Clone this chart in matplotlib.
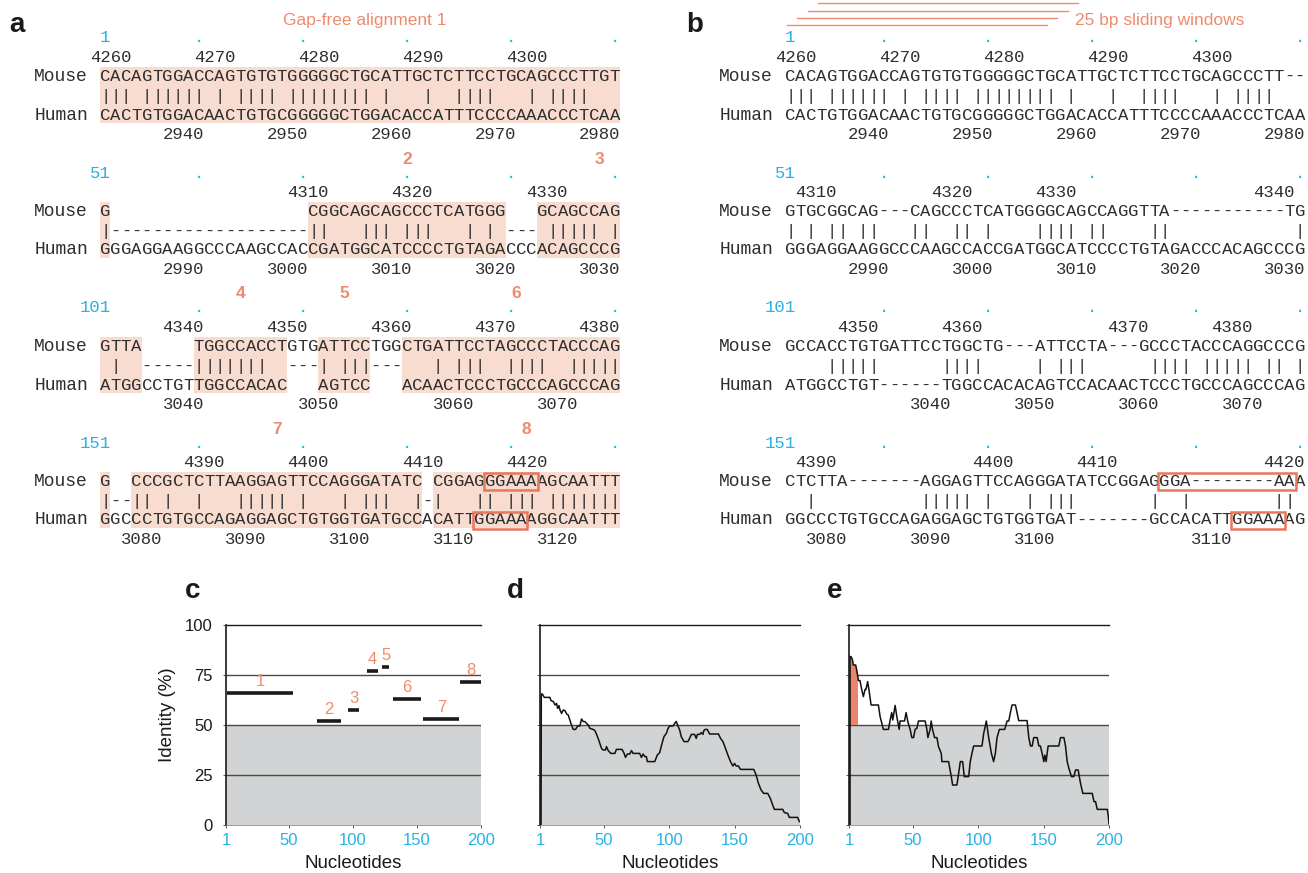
import numpy as np
import matplotlib
matplotlib.use("Agg")
import matplotlib.pyplot as plt
from matplotlib.patches import Rectangle

# ---------------- data ----------------
# panel a : alignment with gap-free blocks (gaps = '-')
mouse_a = [
    "CACAGTGGACCAGTGTGTGGGGGCTGCATTGCTCTTCCTGCAGCCCTTGT",
    "G-------------------CGGCAGCAGCCCTCATGGG---GCAGCCAG",
    "GTTA-----TGGCCACCTGTGATTCCTGGCTGATTCCTAGCCCTACCCAG",
    "G--CCCGCTCTTAAGGAGTTCCAGGGATATC-CGGAGGGAAAAGCAATTT",
]
human_a = [
    "CACTGTGGACAACTGTGCGGGGGCTGGACACCATTTCCCCAAACCCTCAA",
    "GGGAGGAAGGCCCAAGCCACCGATGGCATCCCCTGTAGACCCACAGCCCG",
    "ATGGCCTGTTGGCCACAC---AGTCC---ACAACTCCCTGCCCAGCCCAG",
    "GGCCCTGTGCCAGAGGAGCTGTGGTGATGCCACATTGGAAAAGGCAATTT",
]
# panel b : global alignment
mouse_b = [
    "CACAGTGGACCAGTGTGTGGGGGCTGCATTGCTCTTCCTGCAGCCCTT--",
    "GTGCGGCAG---CAGCCCTCATGGGGCAGCCAGGTTA-----------TG",
    "GCCACCTGTGATTCCTGGCTG---ATTCCTA---GCCCTACCCAGGCCCG",
    "CTCTTA-------AGGAGTTCCAGGGATATCCGGAGGGA--------AAA",
]
human_b = [
    "CACTGTGGACAACTGTGCGGGGGCTGGACACCATTTCCCCAAACCCTCAA",
    "GGGAGGAAGGCCCAAGCCACCGATGGCATCCCCTGTAGACCCACAGCCCG",
    "ATGGCCTGT------TGGCCACACAGTCCACAACTCCCTGCCCAGCCCAG",
    "GGCCCTGTGCCAGAGGAGCTGTGGTGAT-------GCCACATTGGAAAAG",
]
mouse_start = 4258
human_start = 2931
motif = "GGAAA"
window_bp = 25
row_len = 50

# panel c : identity of gap-free alignments 1-8
c_labels = ["1", "2", "3", "4", "5", "6", "7", "8"]
c_start = [2, 72, 96, 111, 123, 131, 155, 184]
c_end = [53, 91, 105, 120, 128, 153, 183, 200]
c_identity = [66.0, 52.0, 57.5, 77.0, 79.2, 63.0, 52.8, 71.5]

# panel d : sliding window identity on the global alignment
d_x = [1.8, 2.0, 2.8, 4.3, 8.6, 9.4, 11.2, 12.5, 13.7, 14.5, 15.5, 16.3, 17.5, 18.8,
       20.1, 21.4, 22.6, 24.7, 26.4, 28.2, 29.8, 31.5, 32.8, 34.1, 35.4, 36.6, 37.9,
       39.2, 41.7, 43.0, 44.3, 45.5, 46.8, 48.1, 49.3, 51.1, 51.9, 53.2, 55.2, 58.3,
       59.5, 63.8, 65.4, 66.4, 67.9, 69.7, 71.0, 72.2, 77.3, 78.6, 79.9, 81.2, 82.4,
       83.2, 88.8, 90.8, 92.6, 94.4, 95.9, 97.7, 99.0, 100.2, 102.8, 104.1, 105.3,
       106.6, 107.9, 109.1, 111.2, 114.2, 115.5, 116.8, 119.3, 120.6, 121.4, 123.1,
       124.4, 125.7, 126.4, 127.5, 129.0, 130.8, 137.6, 139.2, 141.0, 142.7, 144.8,
       146.8, 148.6, 149.9, 151.1, 152.9, 154.4, 164.6, 166.4, 168.2, 170.2, 172.2,
       175.3, 177.3, 179.1, 180.4, 186.8, 188.0, 190.6, 191.8, 198.2, 199.5]
d_y = [0.0, 65.5, 65.5, 63.8, 63.8, 62.2, 61.7, 60.0, 60.8, 58.3, 59.7, 57.5, 55.8, 57.5,
       57.2, 55.5, 55.0, 50.8, 47.8, 47.8, 49.5, 49.5, 53.0, 51.7, 51.7, 50.8, 50.0,
       48.3, 47.8, 47.2, 45.3, 43.3, 40.8, 38.3, 37.5, 37.5, 39.2, 37.2, 35.8, 35.8,
       37.8, 37.8, 35.8, 33.8, 35.5, 35.5, 37.2, 35.8, 35.8, 33.8, 35.5, 34.2, 34.2,
       31.7, 31.7, 35.0, 36.2, 40.8, 44.2, 45.8, 48.3, 49.5, 49.5, 50.8, 51.8,
       49.5, 47.5, 44.2, 41.7, 41.7, 43.3, 45.3, 45.3, 43.3, 45.3, 45.3,
       46.2, 45.3, 47.2, 47.8, 47.8, 45.5, 45.5, 43.3, 41.7, 38.8, 35.0,
       31.7, 29.5, 30.8, 29.5, 29.5, 27.8, 27.8, 25.0, 20.8, 17.5, 15.8,
       15.8, 13.3, 10.0, 7.8, 7.8, 6.2, 5.8, 3.8, 3.8, 1.7]

# panel e : sliding window identity on the gap-free alignment
e_x = [1.8, 1.8, 2.5, 3.6, 4.3, 6.1, 6.9, 8.2, 9.4, 10.7, 12.0, 13.3, 14.0, 15.3, 16.3,
       17.9, 23.5, 24.8, 27.3, 31.2, 32.5, 33.7, 34.5, 36.3, 37.6, 39.4, 40.1, 43.5,
       44.7, 46.0, 47.8, 49.1, 50.4, 51.6, 52.9, 54.2, 59.3, 60.6, 61.4, 63.1, 63.9,
       64.9, 66.5, 68.3, 69.5, 71.6, 72.1, 77.2, 79.3, 80.3, 83.6, 84.9, 86.2, 88.0,
       89.2, 92.6, 93.8, 95.1, 96.4, 102.8, 104.1, 106.1, 107.9, 110.0, 111.7, 113.0,
       114.3, 116.1, 120.2, 122.0, 123.3, 124.5, 125.8, 128.4, 130.9, 137.3, 138.6,
       139.9, 141.2, 142.4, 145.0, 146.3, 147.5, 148.8, 150.1, 150.9, 151.9, 153.4,
       161.6, 162.9, 165.5, 166.7, 168.0, 169.3, 171.3, 173.1, 174.4, 176.4, 178.2,
       180.0, 187.2, 188.5, 189.7, 191.0, 198.7, 199.5, 200.0]
e_y = [0.0, 84.2, 84.2, 82.8, 80.0, 80.0, 77.5, 72.2, 72.2, 67.8, 64.2, 67.8, 67.8, 71.7, 67.5,
       60.0, 60.0, 54.2, 47.8, 47.8, 52.5, 56.2, 52.5, 59.8, 54.2, 47.8, 52.0, 52.0,
       56.2, 51.7, 47.8, 43.7, 43.7, 47.8, 48.3, 52.0, 52.0, 47.8, 43.7, 47.8, 52.0,
       47.8, 43.7, 43.7, 39.2, 35.8, 31.7, 31.7, 24.2, 20.0, 20.0, 25.8, 31.7, 31.7,
       24.2, 24.2, 31.7, 35.8, 39.5, 39.5, 45.8, 52.0, 43.7, 35.8, 31.7, 35.8,
       43.7, 47.8, 47.8, 52.0, 52.0, 56.2, 60.0, 60.0, 52.2, 52.2, 43.7,
       39.5, 39.5, 43.7, 43.7, 39.5, 39.5, 35.8, 31.7, 35.0, 31.7, 39.5,
       39.5, 43.7, 43.7, 39.5, 31.7, 28.3, 24.2, 24.2, 27.5, 27.5, 20.8,
       15.8, 15.8, 11.7, 11.7, 7.8, 7.8, 4.2, 0.5]
e_highlight_end = 7.6

x_ticks = [1, 50, 100, 150, 200]
y_ticks = [0, 25, 50, 75, 100]

for rows in (mouse_a, human_a, mouse_b, human_b):
    assert all(len(r) == row_len for r in rows), [len(r) for r in rows]
assert len(d_x) == len(d_y) and len(e_x) == len(e_y), (len(d_x), len(d_y), len(e_x), len(e_y))

# ---------------- style ----------------
FIG_W, FIG_H = 1308, 873
MONO = ["Liberation Mono", "DejaVu Sans Mono"]
SANS = ["Liberation Sans", "DejaVu Sans"]
CW = 10.4
SEQ_FS = 12.4
TXT = "#2e2e2e"
CYAN = "#27B2E6"
SALMON = "#EE8B6E"
BOXC = "#E8775C"
FILLC = "#E9856B"
SHADE = "#F8DCD0"
GRAY = "#D1D3D4"
Y0, DY = 38, 135
OFF_NUM1, OFF_M, OFF_MAT, OFF_H, OFF_NUM2, OFF_RED = 19.5, 38.5, 58.5, 77.0, 96.5, -14
X0A, X0B = 100, 785

fig = plt.figure(figsize=(FIG_W / 100, FIG_H / 100), dpi=100)
bg = fig.add_axes([0, 0, 1, 1])
bg.set_xlim(0, FIG_W)
bg.set_ylim(FIG_H, 0)
bg.axis("off")


def mono(x, y, s, color=TXT, ha="center", size=SEQ_FS, **kw):
    bg.text(x, y, s, family=MONO, size=size, color=color, ha=ha, va="center", **kw)


def match_row(mr, hr, gapchar):
    out = []
    for a, b in zip(mr, hr):
        if a == "-" or b == "-":
            out.append(gapchar)
        elif a == b:
            out.append("|")
        else:
            out.append(" ")
    return "".join(out)


def draw_chars(x0, y, s):
    for c, letter in enumerate(s):
        if letter != " ":
            mono(x0 + (c + 0.5) * CW, y, letter)


def draw_alignment(x0, mrows, hrows, panel_a):
    m_pos, h_pos = mouse_start - 1, human_start - 1
    for i, (mr, hr) in enumerate(zip(mrows, hrows)):
        yb = Y0 + i * DY
        ym, yh = yb + OFF_M, yb + OFF_H
        # index row
        mono(x0 + CW, yb, str(1 + row_len * i), color=CYAN, ha="right")
        for c in range(9, row_len, 10):
            mono(x0 + (c + 0.5) * CW, yb, ".", color=CYAN)
        # species labels
        mono(x0 - 12, ym, "Mouse", ha="right", size=13)
        mono(x0 - 12, yh, "Human", ha="right", size=13)
        # shading of gap-free blocks
        if panel_a:
            both = [a != "-" and b != "-" for a, b in zip(mr, hr)]
            c = 0
            while c < row_len:
                if both[c]:
                    s = c
                    while c < row_len and both[c]:
                        c += 1
                    bg.add_patch(Rectangle((x0 + s * CW, ym - 10), (c - s) * CW,
                                           (yh + 8) - (ym - 10), facecolor=SHADE,
                                           edgecolor="none", zorder=0))
                else:
                    c += 1
        # sequences
        if panel_a:
            draw_chars(x0, ym, mr.replace("-", " "))
            draw_chars(x0, yh, hr.replace("-", " "))
            draw_chars(x0, yb + OFF_MAT, match_row(mr, hr, "-"))
        else:
            draw_chars(x0, ym, mr)
            draw_chars(x0, yh, hr)
            draw_chars(x0, yb + OFF_MAT, match_row(mr, hr, " "))
        # coordinates
        for c, letter in enumerate(mr):
            if letter != "-":
                m_pos += 1
                if m_pos % 10 == 0:
                    mono(x0 + (c + 1) * CW, yb + OFF_NUM1, str(m_pos), ha="right")
        for c, letter in enumerate(hr):
            if letter != "-":
                h_pos += 1
                if h_pos % 10 == 0:
                    mono(x0 + (c + 1) * CW, yb + OFF_NUM2, str(h_pos), ha="right")


def motif_box(x0, rows, row_off):
    full = "".join(rows)
    cols = [i for i, ch in enumerate(full) if ch != "-"]
    k = full.replace("-", "").find(motif)
    c0, c1 = cols[k], cols[k + len(motif) - 1]
    blk = c0 // row_len
    y = Y0 + blk * DY + row_off
    xa = x0 + (c0 % row_len) * CW - 1
    xb = x0 + (c1 % row_len + 1) * CW + 1
    bg.add_patch(Rectangle((xa, y - 8.5), xb - xa, 17, facecolor="none",
                           edgecolor=BOXC, lw=1.8, zorder=3))


draw_alignment(X0A, mouse_a, human_a, True)
draw_alignment(X0B, mouse_b, human_b, False)
motif_box(X0A, mouse_a, OFF_M)
motif_box(X0A, human_a, OFF_H)
motif_box(X0B, mouse_b, OFF_M)
motif_box(X0B, human_b, OFF_H)

# gap-free alignment labels
full_m, full_h = "".join(mouse_a), "".join(human_a)
both_full = [a != "-" and b != "-" for a, b in zip(full_m, full_h)]
runs = []
c = 0
while c < len(both_full):
    if both_full[c]:
        s = c
        while c < len(both_full) and both_full[c]:
            c += 1
        runs.append((s, c - 1))
    else:
        c += 1
for k, (s, e) in enumerate(runs):
    center = (s + e) / 2
    blk = int(center // row_len)
    col = center - blk * row_len
    x = X0A + (col + 0.5) * CW
    if k == 0:
        bg.text(x, 20, "Gap-free alignment 1", family=SANS, size=12.5, color=SALMON,
                ha="center", va="center")
    else:
        bg.text(x, Y0 + blk * DY + OFF_RED, str(k + 1), family=SANS, size=12.5,
                weight="bold", color=SALMON, ha="center", va="center")

# sliding windows sketch in panel b
for k in range(4):
    xs = X0B + 2 + k * CW
    bg.plot([xs, xs + window_bp * CW], [25 - 7.2 * k] * 2, color=SALMON, lw=1.0)
bg.text(X0B + (window_bp + 3) * CW - 1, 21, "25 bp sliding windows", family=SANS,
        size=12.5, color=SALMON, ha="left", va="center")

# panel letters
for letter, x, y in (("a", 17, 31.5), ("b", 695, 31.5), ("c", 193, 598),
                     ("d", 515, 598), ("e", 835, 598)):
    bg.text(x, y, letter, family=SANS, size=20, weight="bold", color="#1a1a1a",
            ha="center", va="baseline")


# ---------------- panels c, d, e ----------------
def panel_axes(left, right, top=625, bottom=825):
    return fig.add_axes([left / FIG_W, 1 - bottom / FIG_H, (right - left) / FIG_W,
                         (bottom - top) / FIG_H])


ax_c = panel_axes(226, 481)
ax_d = panel_axes(540, 800)
ax_e = panel_axes(849, 1109)

for ax in (ax_c, ax_d, ax_e):
    ax.set_xlim(1, 200)
    ax.set_ylim(0, 100)
    ax.patch.set_alpha(0)
    ax.axhspan(0, 50, facecolor=GRAY, edgecolor="none", zorder=0)
    for yv in (25, 50, 75):
        ax.axhline(yv, color="#4a4a4a", lw=1.0, zorder=1)
    ax.axhline(100, color="#1a1a1a", lw=1.0, zorder=1, clip_on=False)
    ax.spines["top"].set_visible(False)
    ax.spines["right"].set_visible(False)
    ax.spines["left"].set_color("#1a1a1a")
    ax.spines["left"].set_linewidth(1.2)
    ax.spines["bottom"].set_color("#8c8c8c")
    ax.spines["bottom"].set_linewidth(0.6)
    ax.set_xticks(x_ticks)
    ax.set_yticks(y_ticks)
    ax.tick_params(axis="both", direction="out", length=2.5, width=0.7, color="#555555")
    ax.tick_params(axis="x", labelsize=12, labelcolor=CYAN, pad=3)
    ax.tick_params(axis="y", labelsize=12, labelcolor="#1a1a1a", pad=7)
    for lbl in ax.get_xticklabels() + ax.get_yticklabels():
        lbl.set_family(SANS)
    cx = (ax.get_position().x0 + ax.get_position().x1) / 2 * FIG_W
    bg.text(cx, 864, "Nucleotides", family=SANS, size=13.5, color="#1a1a1a",
            ha="center", va="center")

ax_d.set_yticklabels([])
ax_e.set_yticklabels([])
bg.text(167, 715, "Identity (%)", family=SANS, size=13.5, color="#1a1a1a",
        rotation=90, ha="center", va="center")

# c: gap-free alignment identities
for lab, s, e, v in zip(c_labels, c_start, c_end, c_identity):
    ax_c.plot([s, e], [v, v], color="#1a1a1a", lw=2.6, solid_capstyle="butt", zorder=3)
    ax_c.text((s + e) / 2, v + 5.7, lab, family=SANS, size=12, color=SALMON,
              ha="center", va="center")

# d: sliding window on global alignment
ax_d.plot(d_x, d_y, color="#111111", lw=1.1, zorder=3)

# e: sliding window on gap-free alignment
n_hi = next(i for i, xv in enumerate(e_x) if xv > e_highlight_end)
poly = ax_e.fill_between(e_x[1:n_hi + 1], 50, e_y[1:n_hi + 1], facecolor=FILLC,
                         edgecolor="none", zorder=2)
poly.set_clip_path(Rectangle((1, 0), e_highlight_end - 1, 100, transform=ax_e.transData))
ax_e.plot(e_x, e_y, color="#111111", lw=1.1, zorder=3)

fig.savefig("out.png", dpi=100)
